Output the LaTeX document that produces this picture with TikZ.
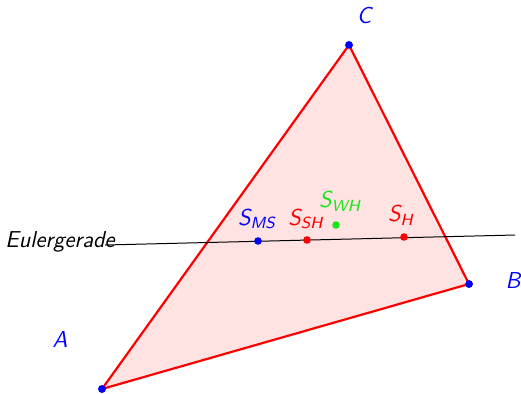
\documentclass[tikz,border=0pt]{standalone}
\usepackage{tikz}
\usetikzlibrary{positioning}
\definecolor{dotgreen}{rgb}{0.1,0.9,0.1}
\tikzset{
    x=0.5pt, y=-0.5pt, % pixel units
    pt/.style={circle, fill=#1, inner sep=0pt, minimum size=3.8pt}, % Points
    lbl/.style={text=#1, font=\fontsize{11.5}{13}\selectfont\sffamily\itshape}, % Point labels
    side/.style={red, line width=1.1pt}, % Triangle sides
}

\begin{document}
\begin{tikzpicture}
    \useasboundingbox (0,0) rectangle (521,393);
    \node[pt=blue] (A) at (102,389) {};
    \node[pt=blue] (B) at (469,284) {};
    \node[pt=blue] (C) at (349,45) {};

    \fill[red!11] (A.center) -- (B.center) -- (C.center) -- cycle;
    \draw[side] (A.center) -- (B.center) -- (C.center) -- cycle;

    \coordinate (e1) at (105,245);
    \coordinate (e2) at (515,235);
    \draw[line width=0.5pt] (e1) -- (e2);

    \node[pt=blue] (Sms) at (258,241) {};
    \node[pt=red] (Ssh) at (307,240) {};
    \node[pt=red] (Sh) at (404,237) {};
    \node[pt=dotgreen] (Swh) at (336,225) {};
    \foreach \p in {A,B,C} \node[pt=blue] at (\p) {};

    \node[lbl=blue] (lA) at (60,340) {A};
    \node[lbl=blue] (lB) at (513,281) {B};
    \node[lbl=blue] (lC) at (364,16) {C};
    \node[lbl=blue] (lSms) at (257,219) {S\textsubscript{MS}};
    \node[lbl=red] (lSsh) at (306,219) {S\textsubscript{SH}};
    \node[lbl=dotgreen] (lSwh) at (340,201) {S\textsubscript{WH}};
    \node[lbl=red] (lSh) at (401,215) {S\textsubscript{H}};
    \node[lbl=black] (lE) at (60,242) {Eulergerade};
\end{tikzpicture}
\end{document}
